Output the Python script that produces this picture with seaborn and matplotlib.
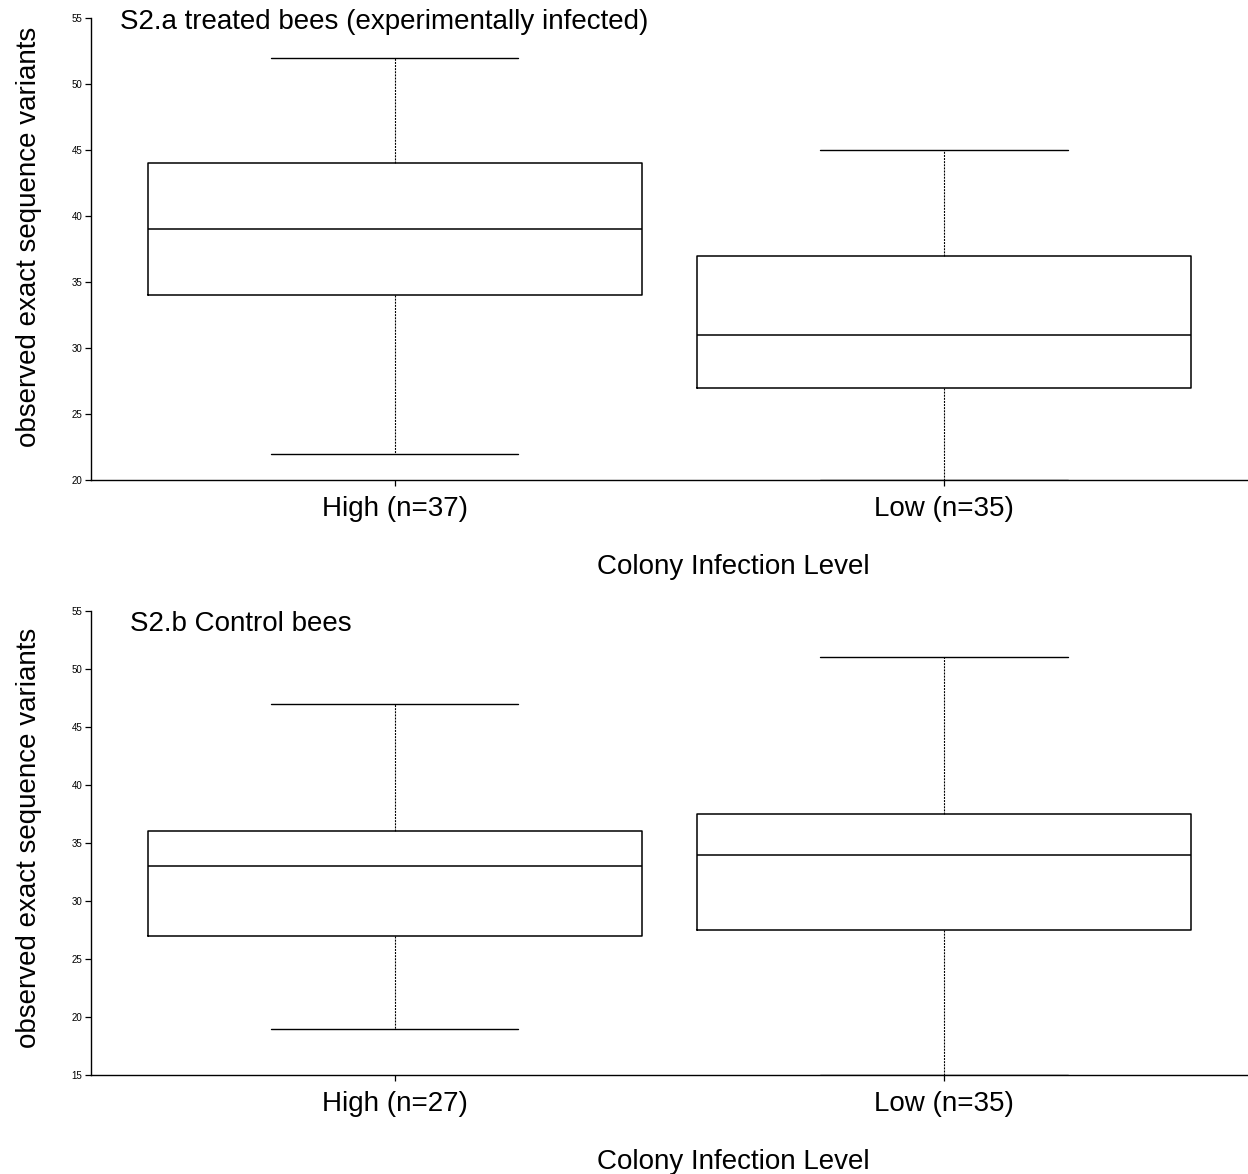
import matplotlib
matplotlib.use("Agg")
import matplotlib.pyplot as plt
import seaborn as sns
import pandas as pd

sns.set_theme(style="white")
plt.rcParams["font.family"] = ["Liberation Sans", "DejaVu Sans"]
plt.rcParams["text.color"] = "black"
plt.rcParams["axes.labelcolor"] = "black"

levels = ["High", "Low"]

# five-number summaries (min, Q1, median, Q3, max) per colony infection level
treated_high = [22, 34, 39, 44, 52]
treated_low = [20, 27, 31, 37, 45]
control_high = [19, 27, 33, 36, 47]
control_low = [15, 27.5, 34, 37.5, 51]

treated_labels = ["High (n=37)", "Low (n=35)"]
control_labels = ["High (n=27)", "Low (n=35)"]

panels = [
    ("S2.a treated bees (experimentally infected)", treated_high, treated_low,
     treated_labels, (20, 55), (0.025, 0.991), 0.526),
    ("S2.b Control bees", control_high, control_low, control_labels, (15, 55),
     (0.0335, 0.972), 0.511),
]

fig = plt.figure(figsize=(12.48, 11.74), dpi=100)
ax_rects = [
    [0.0729, 0.5911, 0.927, 0.3935],
    [0.0729, 0.0843, 0.927, 0.3952],
]

for rect, (title, hi, lo, labels, ylim, tpos, ylab_y) in zip(ax_rects, panels):
    ax = fig.add_axes(rect)
    df = pd.DataFrame({
        "level": [levels[0]] * len(hi) + [levels[1]] * len(lo),
        "value": hi + lo,
    })
    sns.boxplot(
        data=df, x="level", y="value", order=levels, ax=ax,
        whis=(0, 100), width=0.9, fill=False, color="black",
        linewidth=1.1,
        whiskerprops=dict(linestyle=(0, (1.8, 1.0)), linewidth=0.8),
        capprops=dict(linewidth=1.0),
        medianprops=dict(linewidth=1.1, color="black"),
        boxprops=dict(linewidth=1.1, color="black"),
    )
    ax.set_xlim(-0.553, 1.553)
    ax.set_ylim(*ylim)
    ax.set_yticks(range(ylim[0], ylim[1] + 1, 5))
    ax.set_xticks([0, 1])
    ax.set_xticklabels(labels, fontsize=20)
    ax.tick_params(axis="y", labelsize=7, length=4.3, width=0.9, direction="out",
                   pad=2, left=True, colors="black")
    ax.tick_params(axis="x", length=4.3, width=0.9, direction="out", pad=7,
                   bottom=True, colors="black")
    for s in ["top", "right"]:
        ax.spines[s].set_visible(False)
    for s in ["left", "bottom"]:
        ax.spines[s].set_color("black")
        ax.spines[s].set_linewidth(1.0)
    ax.set_ylabel("observed exact sequence variants", fontsize=20)
    ax.yaxis.set_label_coords(-0.0425, ylab_y)
    ax.set_xlabel("Colony Infection Level", fontsize=20)
    ax.xaxis.set_label_coords(0.555, -0.16)
    ax.text(tpos[0], tpos[1], title, transform=ax.transAxes, fontsize=20,
            ha="left", va="center")

fig.savefig("out.png", dpi=100, facecolor="white")
